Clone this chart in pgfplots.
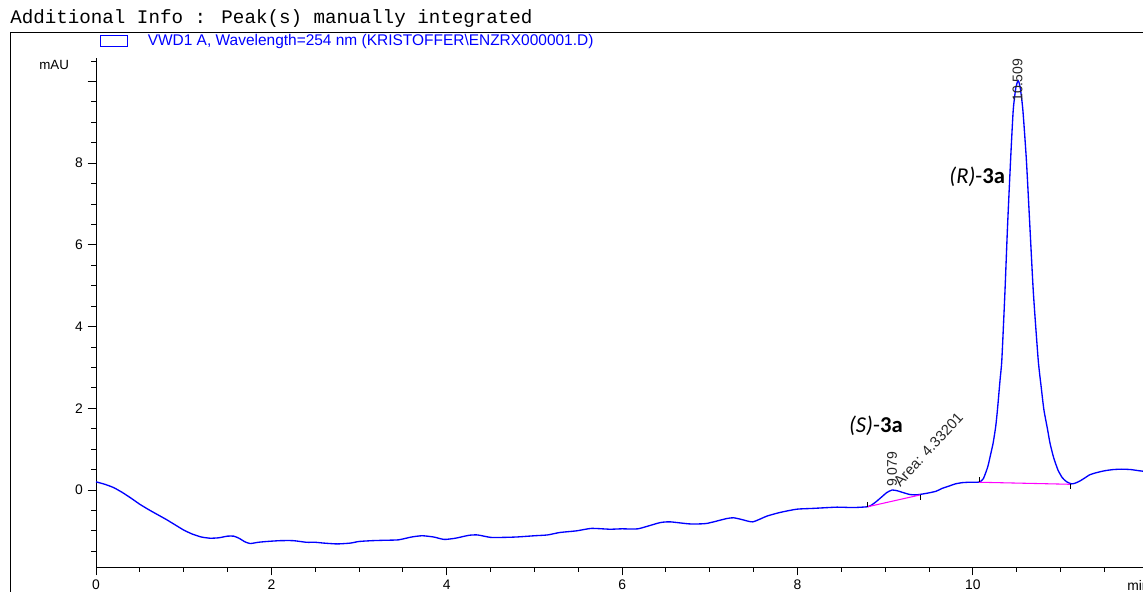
\documentclass[border=0pt]{standalone}
\usepackage{pgfplots}
\pgfplotsset{compat=1.18}
\usepackage{fontspec}
\setmainfont{Liberation Sans}
\newfontfamily\monofont{Liberation Mono}
\newfontfamily\calfont{Carlito}
\definecolor{trace}{RGB}{0,0,255}
\definecolor{basel}{RGB}{255,0,255}
\begin{document}
\begin{tikzpicture}
\path[use as bounding box] (0,0) rectangle (857.25pt,-444pt);
\begin{scope}[x=0.75pt,y=-0.75pt]
\node[anchor=base west,inner sep=0,font=\monofont\fontsize{14.4}{16}\selectfont] at (10,24) {Additional Info : Peak(s) manually integrated};
\draw[line width=1.1pt] (10.7,600) -- (10.7,32.5) -- (1160,32.5);
\draw[trace,line width=0.75pt] (100,35.5) rectangle (127.5,47);
\node[anchor=base west,inner sep=0,text=trace,font=\fontsize{11.6}{13}\selectfont] at (147.5,45.5) {VWD1 A, Wavelength=254 nm (KRISTOFFER\textbackslash ENZRX000001.D)};
\node[anchor=base west,inner sep=0,font=\fontsize{10}{12}\selectfont] at (39,70) {mAU};
\node[anchor=base west,inner sep=0,font=\fontsize{10.4}{12}\selectfont] at (1127,590) {min};
\end{scope}
\begin{axis}[
  at={(72pt,-425.25pt)}, anchor=south west,
  scale only axis, width=785.25pt, height=381.75pt,
  xmin=0, xmax=11.94, ymin=-1.885, ymax=10.575,
  axis x line*=bottom, axis y line*=left,
  axis line style={-, line width=0.75pt, black},
  tick align=outside,
  major tick length=6.3pt, minor tick length=3.6pt,
  every tick/.style={black, line width=0.75pt},
  xtick={0,2,4,6,8,10},
  minor xtick={0.5,1,1.5,2.5,3,3.5,4.5,5,5.5,6.5,7,7.5,8.5,9,9.5,10.5,11,11.5},
  ytick={0,2,4,6,8,10},
  yticklabels={0,2,4,6,8,{}},
  minor ytick={-1.5,-1,-0.5,0.5,1,1.5,2.5,3,3.5,4.5,5,5.5,6.5,7,7.5,8.5,9,9.5,10.5},
  /pgf/number format/assume math mode=true,
  tick label style={font=\fontsize{10.4}{12}\selectfont},
  clip=false,
]
\addplot[trace, line width=1pt, smooth, tension=0.35] table {
x y
0.00 0.20
0.10 0.14
0.20 0.06
0.30 -0.06
0.40 -0.20
0.50 -0.35
0.60 -0.48
0.70 -0.60
0.80 -0.72
0.90 -0.85
1.00 -0.98
1.10 -1.08
1.20 -1.15
1.30 -1.18
1.40 -1.17
1.50 -1.13
1.57 -1.13
1.63 -1.18
1.70 -1.27
1.76 -1.31
1.85 -1.28
1.95 -1.26
2.10 -1.24
2.25 -1.24
2.40 -1.28
2.50 -1.28
2.60 -1.30
2.75 -1.32
2.90 -1.30
3.00 -1.26
3.15 -1.24
3.30 -1.23
3.45 -1.22
3.60 -1.15
3.72 -1.12
3.85 -1.15
3.97 -1.21
4.10 -1.18
4.25 -1.11
4.35 -1.10
4.50 -1.16
4.65 -1.16
4.80 -1.15
5.00 -1.12
5.15 -1.10
5.29 -1.04
5.48 -1.00
5.65 -0.94
5.86 -0.96
6.00 -0.95
6.18 -0.95
6.43 -0.80
6.55 -0.78
6.77 -0.83
6.96 -0.82
7.19 -0.70
7.27 -0.68
7.36 -0.72
7.49 -0.78
7.65 -0.64
7.80 -0.55
7.99 -0.47
8.18 -0.45
8.45 -0.42
8.63 -0.43
8.80 -0.41
8.85 -0.36
8.90 -0.28
8.96 -0.17
9.02 -0.06
9.08 0.00
9.14 -0.02
9.20 -0.06
9.28 -0.11
9.35 -0.12
9.42 -0.10
9.50 -0.07
9.58 -0.03
9.65 0.04
9.72 0.09
9.80 0.15
9.88 0.18
9.96 0.19
10.04 0.19
10.08 0.20
10.12 0.28
10.17 0.57
10.20 0.85
10.23 1.14
10.26 1.55
10.28 1.96
10.31 2.70
10.33 3.18
10.365 4.82
10.395 6.45
10.43 8.08
10.46 9.30
10.49 9.85
10.516 10.02
10.54 9.85
10.57 9.30
10.61 8.08
10.65 6.45
10.69 4.82
10.745 3.18
10.78 2.50
10.81 1.96
10.85 1.50
10.88 1.14
10.92 0.80
10.97 0.49
11.02 0.30
11.07 0.20
11.125 0.15
11.17 0.17
11.22 0.22
11.28 0.30
11.33 0.37
11.40 0.42
11.50 0.47
11.60 0.50
11.70 0.51
11.80 0.50
11.90 0.47
11.94 0.46
};
\addplot[basel, line width=0.8pt] coordinates {(8.80,-0.41) (9.40,-0.12)};
\addplot[basel, line width=0.8pt] coordinates {(10.07,0.19) (11.11,0.14)};
\addplot[black, line width=0.6pt] coordinates {(8.80,-0.41) (8.80,-0.29)};
\addplot[black, line width=0.6pt] coordinates {(9.40,-0.12) (9.40,-0.24)};
\addplot[black, line width=0.6pt] coordinates {(10.07,0.19) (10.07,0.31)};
\addplot[black, line width=0.6pt] coordinates {(11.11,0.14) (11.11,0.02)};
\node[rotate=90, anchor=west, inner sep=0, text=black!85, font=\fontsize{10.5}{12}\selectfont] at (axis cs:10.509,9.5) {10.509};
\node[rotate=90, anchor=west, inner sep=0, text=black!85, font=\fontsize{10.5}{12}\selectfont] at (axis cs:9.079,0.07) {9.079};
\node[rotate=47, anchor=base west, inner sep=0, text=black!85, font=\fontsize{11}{12}\selectfont] at (axis cs:9.17,0.06) {Area: 4.33201};
\node[font=\calfont\fontsize{17}{19}\selectfont] at (axis cs:8.894,1.57) {\textit{(S)}-\textbf{3a}};
\node[font=\calfont\fontsize{17}{19}\selectfont] at (axis cs:10.05,7.66) {\textit{(R)}-\textbf{3a}};
\end{axis}
\end{tikzpicture}
\end{document}
